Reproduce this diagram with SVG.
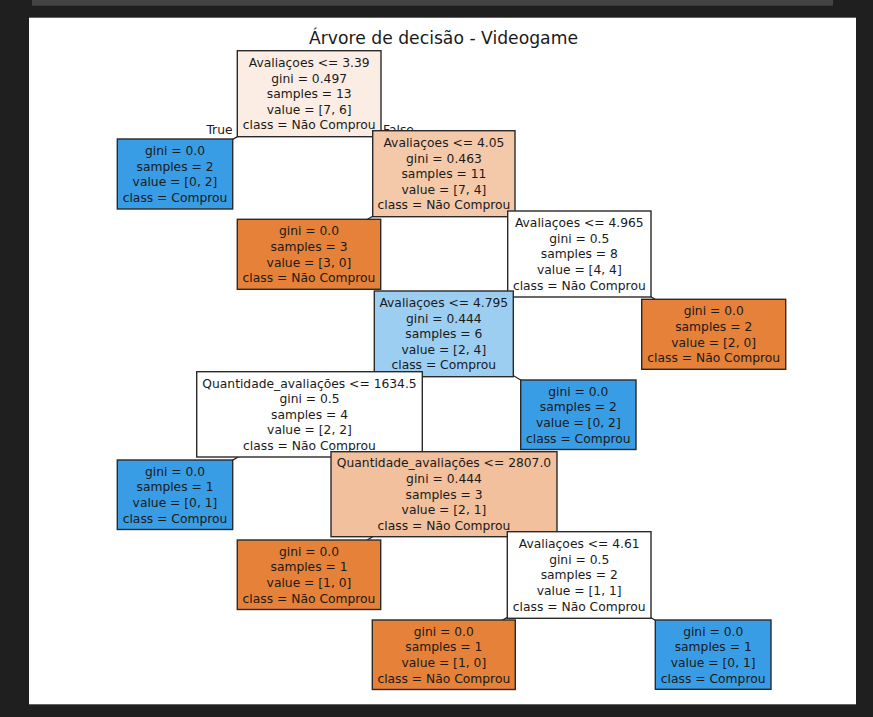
<svg xmlns="http://www.w3.org/2000/svg" width="873" height="717" viewBox="0 0 873 717">
<style>
.bg{fill:#1f1f1f}
.box{stroke:#2a2a2a;stroke-width:1.4}
.t{font-family:"DejaVu Sans",sans-serif;font-size:12.3px;fill:#1a1a1a;text-anchor:middle}
.lbl{font-family:"DejaVu Sans",sans-serif;font-size:12.3px;fill:#1a1a1a}
.title{font-family:"DejaVu Sans",sans-serif;font-size:17.2px;fill:#1a1a1a;text-anchor:middle}
.conn line{stroke:#1a1a1a;stroke-width:1.2}
.w{fill:#ffffff}.o{fill:#e58139}.b{fill:#399de5}
</style>
<rect class="bg" x="0" y="0" width="873" height="717"/>
<rect x="32" y="0" width="801" height="5.7" fill="#444444"/>
<rect x="29" y="17.7" width="827" height="686.6" fill="#ffffff"/>
<text class="title" x="443.5" y="44.3">Árvore de decisão - Videogame</text>
<g id="connectors" class="conn">
<line x1="309.2" y1="93.7" x2="175" y2="174"/>
<line x1="309.2" y1="93.7" x2="443.9" y2="173.7"/>
<line x1="443.9" y1="173.7" x2="309" y2="254.3"/>
<line x1="443.9" y1="173.7" x2="579.3" y2="254"/>
<line x1="579.3" y1="254" x2="443.8" y2="333.8"/>
<line x1="579.3" y1="254" x2="713.7" y2="334.3"/>
<line x1="443.8" y1="333.8" x2="309.5" y2="414.3"/>
<line x1="443.8" y1="333.8" x2="578.3" y2="414.7"/>
<line x1="309.5" y1="414.3" x2="175" y2="494.7"/>
<line x1="309.5" y1="414.3" x2="444" y2="494.2"/>
<line x1="444" y1="494.2" x2="309" y2="574.7"/>
<line x1="444" y1="494.2" x2="579.2" y2="575"/>
<line x1="579.2" y1="575" x2="443.8" y2="654.7"/>
<line x1="579.2" y1="575" x2="713.2" y2="654.7"/>
</g>
<text class="lbl" x="232.5" y="134.4" text-anchor="end">True</text>
<text class="lbl" x="383" y="134" >False</text>
<g id="n1"><rect class="box" x="237.3" y="50.7" width="143.7" height="86" fill="#fbede3"/>
<text class="t" x="309.2" y="66.9">Avaliaçoes &lt;= 3.39<tspan x="309.2" dy="15.6">gini = 0.497</tspan><tspan x="309.2" dy="15.6">samples = 13</tspan><tspan x="309.2" dy="15.6">value = [7, 6]</tspan><tspan x="309.2" dy="15.6">class = Não Comprou</tspan></text></g>
<g id="n2"><rect class="box b" x="117.3" y="139" width="115.4" height="70"/>
<text class="t" x="175" y="155">gini = 0.0<tspan x="175" dy="15.6">samples = 2</tspan><tspan x="175" dy="15.6">value = [0, 2]</tspan><tspan x="175" dy="15.6">class = Comprou</tspan></text></g>
<g id="n3"><rect class="box" x="372.7" y="130.7" width="142.3" height="86" fill="#f4c9aa"/>
<text class="t" x="443.9" y="146.9">Avaliaçoes &lt;= 4.05<tspan x="443.9" dy="15.6">gini = 0.463</tspan><tspan x="443.9" dy="15.6">samples = 11</tspan><tspan x="443.9" dy="15.6">value = [7, 4]</tspan><tspan x="443.9" dy="15.6">class = Não Comprou</tspan></text></g>
<g id="n4"><rect class="box o" x="237.3" y="219.3" width="143.4" height="70"/>
<text class="t" x="309" y="235.3">gini = 0.0<tspan x="309" dy="15.6">samples = 3</tspan><tspan x="309" dy="15.6">value = [3, 0]</tspan><tspan x="309" dy="15.6">class = Não Comprou</tspan></text></g>
<g id="n5"><rect class="box w" x="507.7" y="211" width="143.3" height="86"/>
<text class="t" x="579.3" y="227.2">Avaliaçoes &lt;= 4.965<tspan x="579.3" dy="15.6">gini = 0.5</tspan><tspan x="579.3" dy="15.6">samples = 8</tspan><tspan x="579.3" dy="15.6">value = [4, 4]</tspan><tspan x="579.3" dy="15.6">class = Não Comprou</tspan></text></g>
<g id="n6"><rect class="box" x="374.3" y="291" width="139" height="85.7" fill="#9ccef2"/>
<text class="t" x="443.8" y="307">Avaliaçoes &lt;= 4.795<tspan x="443.8" dy="15.6">gini = 0.444</tspan><tspan x="443.8" dy="15.6">samples = 6</tspan><tspan x="443.8" dy="15.6">value = [2, 4]</tspan><tspan x="443.8" dy="15.6">class = Comprou</tspan></text></g>
<g id="n7"><rect class="box o" x="641.7" y="299.3" width="144" height="70"/>
<text class="t" x="713.7" y="315.3">gini = 0.0<tspan x="713.7" dy="15.6">samples = 2</tspan><tspan x="713.7" dy="15.6">value = [2, 0]</tspan><tspan x="713.7" dy="15.6">class = Não Comprou</tspan></text></g>
<g id="n8"><rect class="box w" x="196.7" y="371.7" width="225.6" height="85.3"/>
<text class="t" x="309.5" y="387.5">Quantidade_avaliações &lt;= 1634.5<tspan x="309.5" dy="15.6">gini = 0.5</tspan><tspan x="309.5" dy="15.6">samples = 4</tspan><tspan x="309.5" dy="15.6">value = [2, 2]</tspan><tspan x="309.5" dy="15.6">class = Não Comprou</tspan></text></g>
<g id="n9"><rect class="box b" x="520.7" y="380" width="115.3" height="69.5"/>
<text class="t" x="578.3" y="395.7">gini = 0.0<tspan x="578.3" dy="15.6">samples = 2</tspan><tspan x="578.3" dy="15.6">value = [0, 2]</tspan><tspan x="578.3" dy="15.6">class = Comprou</tspan></text></g>
<g id="n10"><rect class="box b" x="117.3" y="460" width="115.4" height="69.5"/>
<text class="t" x="175" y="475.7">gini = 0.0<tspan x="175" dy="15.6">samples = 1</tspan><tspan x="175" dy="15.6">value = [0, 1]</tspan><tspan x="175" dy="15.6">class = Comprou</tspan></text></g>
<g id="n11"><rect class="box" x="331" y="451.7" width="226" height="85" fill="#f2c09c"/>
<text class="t" x="444" y="467.4">Quantidade_avaliações &lt;= 2807.0<tspan x="444" dy="15.6">gini = 0.444</tspan><tspan x="444" dy="15.6">samples = 3</tspan><tspan x="444" dy="15.6">value = [2, 1]</tspan><tspan x="444" dy="15.6">class = Não Comprou</tspan></text></g>
<g id="n12"><rect class="box o" x="237.3" y="540" width="143.4" height="69.5"/>
<text class="t" x="309" y="555.7">gini = 0.0<tspan x="309" dy="15.6">samples = 1</tspan><tspan x="309" dy="15.6">value = [1, 0]</tspan><tspan x="309" dy="15.6">class = Não Comprou</tspan></text></g>
<g id="n13"><rect class="box w" x="507.3" y="531.7" width="143.7" height="86.6"/>
<text class="t" x="579.2" y="548.2">Avaliaçoes &lt;= 4.61<tspan x="579.2" dy="15.6">gini = 0.5</tspan><tspan x="579.2" dy="15.6">samples = 2</tspan><tspan x="579.2" dy="15.6">value = [1, 1]</tspan><tspan x="579.2" dy="15.6">class = Não Comprou</tspan></text></g>
<g id="n14"><rect class="box o" x="372.3" y="620" width="143" height="69.5"/>
<text class="t" x="443.8" y="635.7">gini = 0.0<tspan x="443.8" dy="15.6">samples = 1</tspan><tspan x="443.8" dy="15.6">value = [1, 0]</tspan><tspan x="443.8" dy="15.6">class = Não Comprou</tspan></text></g>
<g id="n15"><rect class="box b" x="655.3" y="620" width="115.7" height="69.3"/>
<text class="t" x="713.2" y="635.7">gini = 0.0<tspan x="713.2" dy="15.6">samples = 1</tspan><tspan x="713.2" dy="15.6">value = [0, 1]</tspan><tspan x="713.2" dy="15.6">class = Comprou</tspan></text></g>
</svg>
